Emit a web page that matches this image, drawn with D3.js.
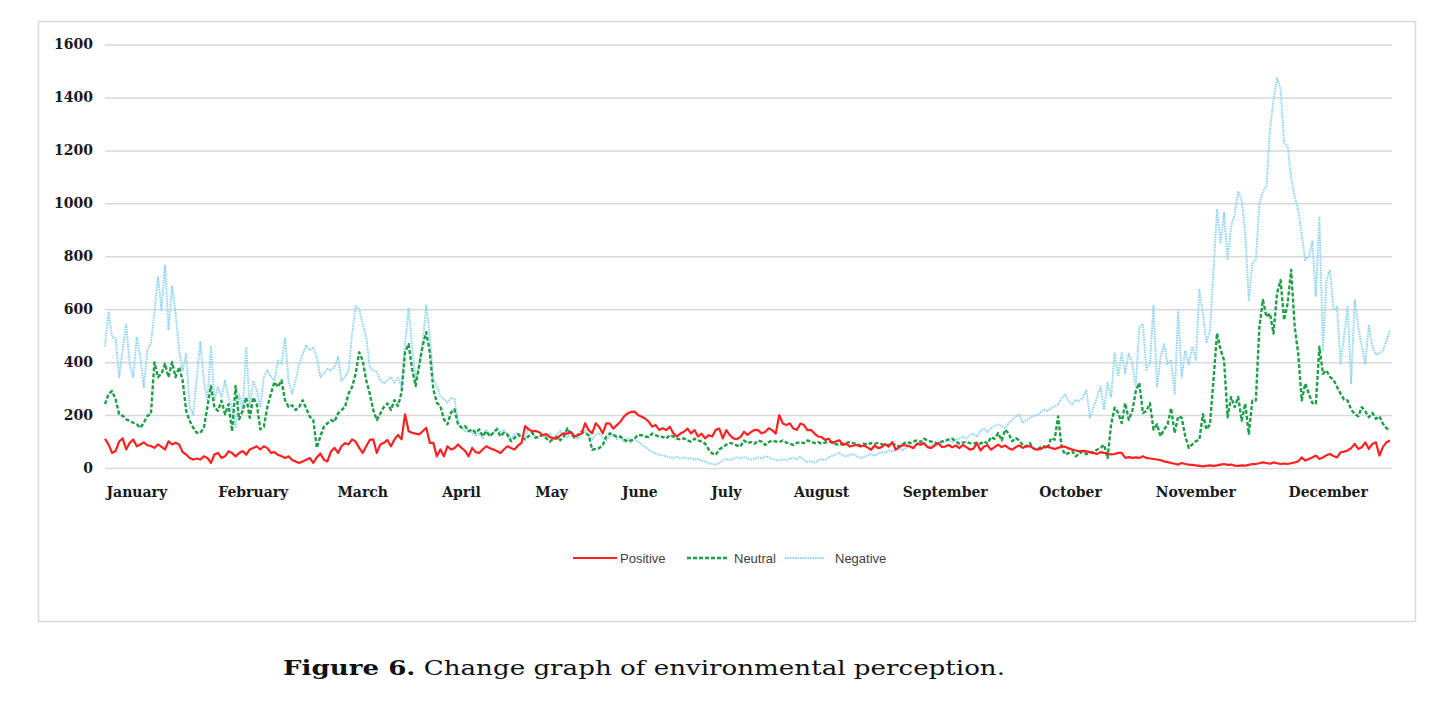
<!DOCTYPE html>
<html>
<head>
<meta charset="utf-8">
<script src="https://cdn.jsdelivr.net/npm/d3@7"></script>
<style>
  body { margin: 0; background: #fff; }
</style>
</head>
<body>
<svg id="chart" width="1456" height="707"></svg>
<script>
// daily counts, day 0 = 1 January
const positive = [
  110,89,57,64,100,112,70,95,108,82, 89,97,86,83,76,89,80,70,101,89,
  95,89,60,51,38,32,36,32,44,38, 19,51,57,38,44,63,57,44,57,64,
  50,70,76,82,70,
  82,75,57,60,50, 44,38,44,30,25, 19,25,31,38,19, 40,55,31,25,62,
  76,57,82,94,89, 108,100,76,57,82, 106,108,57,89,95, 106,82,108,125,108,
  203,139,133,130,127,
  139,152,95,95,44,70,44,82,70,75, 89,76,65,44,76,60,57,70,82,75,
  70,64,57,70,82,76,70,85,95,158, 146,139,140,
  135,124,128,117,112,111,124,131,130,136, 119,125,130,169,143,131,169,155,131,169,
  168,149,162,175,194,206,212,213,200,194, 187,175,156,162,144,150,143,156,131,119,
  130,137,149,131,143,119,130,112,124,119, 144,149,112,143,124,112,109,117,137,125,
  136,144,143,131,136,150,143,130,200,168, 162,169,149,144,168,162,143,144,130,119,
  117,106,111,94,100,105,87,92,81,85,
  87,81,85,78,69,85,75,79,90,81, 98,69,79,87,85,81,75,92,88,94,
  79,75,85,94,80,81,87,78,85,75, 87,79,69,73,94,66,81,85,69,79,
  88,79,85,75,69,79,85,76,82,82, 75,69,72,79,82,76,72,76,82,80,
  74,70,66,63,65,63,60,57,53,60, 57,55,51,53,57,57,38,41,38,40,
  38,44,38,36,34,32,30,25,22,19, 16,13,19,15,13,12,10,8,6,8,
  10,8,10,13,15,12,13,9,8,10, 9,12,15,15,18,21,19,16,21,18,
  15,17,15,18,21,25,40,28,34,40, 47,34,40,48,53,45,40,59,62,66,
  75,91,72,78,97,72,91,97,47,80, 97,104
];

const neutral = [
  241,279,291,260,203,197,184,178,171,165, 152,171,197,203,399,343,356,394,343,400,
  343,381,330,216,178,152,133,133,152,229, 310,229,216,254,203,241,139,310,184,216,
  267,190,267,241,146,
  156,231,281,325,306, 331,256,231,237,219, 231,256,225,194,181, 76,119,156,169,181,
  175,206,219,231,281, 306,356,437,406,331, 281,219,181,206,231, 244,219,256,234,285,
  437,468,373,310,386,
  462,513,437,297,247, 234,184,165,209,222, 165,152,158,139,146, 133,146,120,139,120,
  133,146,120,133,127, 101,114,127,114,108, 120,133,114,
  120,124,112,100,110,118,105,119,150,128, 115,125,138,130,125,69,72,75,87,119,
  131,125,118,119,108,100,104,111,125,124, 119,117,130,124,118,117,112,124,119,111,
  108,112,104,100,111,104,100,92,70,55, 50,70,79,88,94,92,85,81,104,94,
  98,92,104,100,87,98,104,100,98,104, 96,92,87,95,98,94,104,100,94,98,
  92,96,100,98,90,87,92,95,98,94,
  90,85,92,88,94,92,94,90,85,88, 92,87,81,90,98,94,100,104,98,111,
  104,100,97,92,100,104,108,111,100,92, 96,98,94,92,96,92,100,92,117,110,
  132,104,145,130,101,113,104,85,82,94, 73,69,79,82,73,113,107,195,76,51,
  57,63,44,55,63,52,57,60,69,76, 88,38,165,228,208,170,245,182,215,291,
  321,208,215,245,145,165,120,145,165,226, 132,195,190,120,76,89,101,107,203,146,
  164,333,509,447,407,192,268,230,268,179, 243,129,255,255,533,635,571,584,508,660,
  710,559,622,748,533,432,255,319,281,245, 243,458,356,369,344,333,306,281,258,255,
  220,205,195,230,214,192,208,186,195,167, 150,142
];

const negative = [
  460,590,495,490,343,445,546,394,343,495, 419,305,445,470,584,724,597,768,520,686,
  584,445,368,432,229,203,343,476,330,254, 457,254,305,267,330,267,229,152,279,216,
  457,229,330,292,229,
  344,369,344,331,406,394,494,331,281,331, 394,431,462,444,456,419,344,356,375,369,
  381,419,331,344,369,506,612,600,544,494, 381,369,362,331,319,331,344,319,344,306,
  469,606,456,331,394,
  481,614,500,335,310,272,260,247,266,260,
  171,158,139,146,133,120,133,114,146,120, 133,152,133,146,120,108,127,133,120,114,
  152,133,114,120,
  125,118,130,112,128,140,122,115,135,120, 110,128,142,118,108,125,132,115,104,120,
  128,110,118,100,112,96,108,
  100,88,79,70,60,55,50,47,44,40, 38,42,36,40,34,38,31,34,28,24,
  18,15,12,20,28,35,30,34,40,36, 41,38,32,34,40,36,44,41,35,30,
  28,34,30,36,38,32,44,30,22,26, 20,28,34,30,40,46,51,56,48,43,
  50,53,
  44,38,41,46,52,47,55,60,58,66, 62,70,73,68,78,85,80,90,92,86,
  80,85,92,98,95,100,104,98,108,111, 118,112,124,130,117,140,148,136,150,160,
  164,158,151,170,182,195,201,170,180,189, 195,201,210,220,215,226,232,240,266,277,
  252,240,258,253,266,296,190,228,266,308, 220,321,270,434,346,434,358,434,396,308,
  532,544,371,396,616,304,418,468,392,409, 278,595,342,443,392,459,409,673,585,472,
  519,747,975,848,
  963,786,913,960,1045,1010,887,635,773,786, 1000,1045,1064,1279,1390,1475,1431,1229,1216,1100,
  1026,976,880,786,799,856,647,950,445,710, 748,597,609,394,500,609,319,635,533,460,
  394,540,458,430,432,445,480,521
];

const seriesNames = ['Positive', 'Neutral', 'Negative'];
const months = ['January', 'February', 'March', 'April', 'May', 'June', 'July',
  'August', 'September', 'October', 'November', 'December'];
const monthLabelDays = [9, 42, 73, 101, 126.5, 151.5, 176, 203, 238, 273.5, 309, 346.5];
const yTicks = [0, 200, 400, 600, 800, 1000, 1200, 1400, 1600];

const svg = d3.select('#chart');

// frame round the chart
svg.append('rect')
  .attr('x', 38.5).attr('y', 21.5)
  .attr('width', 1377).attr('height', 600)
  .attr('fill', '#fff')
  .attr('stroke', '#d9d9d9')
  .attr('stroke-width', 1.5);

const margin = {left: 105, top: 44.5, right: 64, bottom: 239};
const innerWidth = 1456 - margin.left - margin.right;
const innerHeight = 707 - margin.top - margin.bottom;

const g = svg.append('g')
  .attr('transform', `translate(${margin.left}, ${margin.top})`);

const xScale = d3.scaleLinear().domain([0, 364]).range([0, innerWidth - 2]);
const yScale = d3.scaleLinear().domain([0, 1600]).range([innerHeight, 0]);

// grid lines from the y axis, labels drawn separately
const yAxis = g.append('g')
  .attr('class', 'y-axis')
  .call(d3.axisLeft(yScale).tickValues(yTicks).tickFormat('').tickSize(-innerWidth));
yAxis.select('.domain').remove();
yAxis.selectAll('text').remove();
yAxis.selectAll('line').attr('stroke', '#d9d9d9').attr('stroke-width', 1.5);

g.append('g')
  .selectAll('text')
  .data(yTicks)
  .join('text')
  .attr('x', -12)
  .attr('y', d => yScale(d))
  .attr('dy', '0.35em')
  .attr('text-anchor', 'end')
  .attr('font-family', 'DejaVu Serif')
  .attr('font-size', 14)
  .attr('font-weight', 'bold')
  .attr('fill', '#1a1a1a')
  .text(d => d);

// month labels
g.append('g')
  .selectAll('text')
  .data(months)
  .join('text')
  .attr('x', (d, i) => xScale(monthLabelDays[i]))
  .attr('y', innerHeight + 29)
  .attr('text-anchor', 'middle')
  .attr('font-family', 'DejaVu Serif')
  .attr('font-size', 14)
  .attr('font-weight', 'bold')
  .attr('fill', '#1a1a1a')
  .text(d => d);

const styles = [
  {color: '#ff2020', width: 2.2, dash: null},
  {color: '#1e9e48', width: 2.4, dash: '4,2'},
  {color: '#8dd3f5', width: 2, dash: '1.5,1'}
];
const seriesData = [positive, neutral, negative];

const lineGen = d3.line()
  .x((d, i) => xScale(i))
  .y(d => yScale(d));

// draw negative first so the others sit on top
[2, 1, 0].forEach(k => {
  g.append('path')
    .datum(seriesData[k])
    .attr('fill', 'none')
    .attr('stroke', styles[k].color)
    .attr('stroke-width', styles[k].width)
    .attr('stroke-dasharray', styles[k].dash)
    .attr('stroke-linejoin', 'round')
    .attr('d', lineGen);
});

// legend
const legendX = [573, 687, 785];
const legend = svg.selectAll('.legend')
  .data(seriesNames)
  .join('g')
  .attr('class', 'legend')
  .attr('transform', (d, i) => `translate(${legendX[i]}, 558)`);

legend.append('line')
  .attr('x1', 0).attr('x2', (d, i) => i === 0 ? 44 : 40)
  .attr('stroke', (d, i) => styles[i].color)
  .attr('stroke-width', (d, i) => styles[i].width)
  .attr('stroke-dasharray', (d, i) => styles[i].dash);

legend.append('text')
  .attr('x', (d, i) => i === 2 ? 50 : 47)
  .attr('y', 4.5)
  .attr('fill', '#404040')
  .attr('font-family', 'Liberation Sans')
  .attr('font-size', 13)
  .text(d => d);

// caption under the frame
const caption = svg.append('text')
  .attr('x', 283).attr('y', 675)
  .attr('font-family', 'DejaVu Serif')
  .attr('font-size', 21)
  .attr('textLength', 722)
  .attr('lengthAdjust', 'spacingAndGlyphs')
  .attr('fill', '#111');
caption.append('tspan').attr('font-weight', 'bold').text('Figure 6.');
caption.append('tspan').text(' Change graph of environmental perception.');
</script>
</body>
</html>
